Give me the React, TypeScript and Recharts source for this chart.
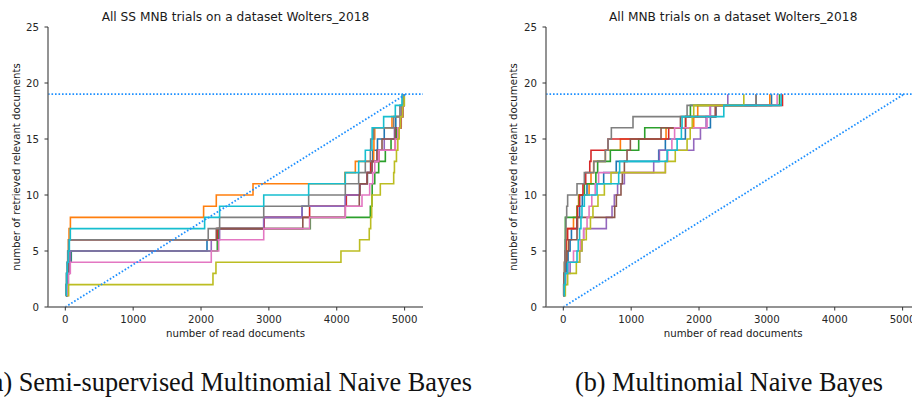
import React from 'react';
import { LineChart, Line, XAxis, YAxis, ReferenceLine } from 'recharts';

const X_TICKS = [0, 1000, 2000, 3000, 4000, 5000];
const Y_TICKS = [0, 5, 10, 15, 20, 25];
const FOUND = [1, 2, 3, 4, 5, 6, 7, 8, 9, 10, 11, 12, 13, 14, 15, 16, 17, 18, 19];
const TOTAL_RELEVANT = 19;
const TOTAL_DOCS = 5020;

// tab10
const COLORS = ['#1f77b4', '#ff7f0e', '#2ca02c', '#d62728', '#9467bd', '#8c564b', '#e377c2', '#7f7f7f', '#bcbd22', '#17becf'];

// number of read documents at which the k-th relevant one was found (k = 1..19)
// semi-supervised MNB
const ss1 = [15, 25, 35, 50, 88, 2088, 2235, 2924, 3490, 4130, 4335, 4450, 4500, 4530, 4600, 4700, 4870, 4950, 4985];
const ss2 = [5, 15, 25, 35, 40, 45, 55, 75, 2038, 2225, 2766, 4120, 4274, 4544, 4548, 4560, 4814, 4960, 4985];
const ss3 = [20, 30, 45, 60, 80, 2240, 2260, 3610, 4495, 4519, 4522, 4560, 4618, 4716, 4800, 4880, 4950, 4975, 4995];
const ss4 = [10, 20, 30, 40, 50, 55, 2240, 2930, 3600, 4141, 4338, 4446, 4500, 4620, 4863, 4900, 4950, 4975, 4990];
const ss5 = [20, 30, 40, 55, 74, 2151, 2274, 2924, 3488, 4126, 4340, 4450, 4520, 4600, 4700, 4850, 4930, 4960, 4985];
const ss6 = [10, 20, 30, 40, 45, 55, 2225, 3500, 4126, 4332, 4340, 4450, 4520, 4592, 4667, 4863, 4940, 4965, 4990];
const ss7 = [25, 35, 45, 74, 2151, 2260, 2924, 3600, 4126, 4372, 4485, 4530, 4560, 4618, 4863, 4900, 4940, 4970, 4990];
const ss8 = [5, 10, 15, 25, 35, 49, 2106, 2274, 2924, 3586, 4126, 4323, 4421, 4495, 4500, 4544, 4840, 4930, 4980];
const ss9 = [30, 49, 2176, 2220, 4062, 4337, 4479, 4500, 4515, 4519, 4642, 4839, 4850, 4880, 4900, 4920, 4940, 4970, 4995];
const ss10 = [10, 15, 20, 30, 45, 60, 74, 2053, 2274, 2924, 3586, 4126, 4323, 4421, 4519, 4522, 4691, 4863, 4961];

// plain MNB
const mnb1 = [5, 15, 25, 45, 70, 100, 120, 200, 241, 280, 349, 595, 780, 1406, 1504, 1799, 2168, 2250, 3068];
const mnb2 = [5, 10, 15, 20, 40, 50, 54, 150, 202, 225, 380, 408, 447, 620, 841, 1514, 1922, 1981, 3043];
const mnb3 = [5, 10, 15, 20, 25, 28, 30, 30, 205, 235, 310, 480, 506, 693, 1111, 1200, 1800, 1873, 3186];
const mnb4 = [5, 10, 15, 20, 25, 40, 64, 202, 210, 241, 290, 330, 390, 408, 659, 1553, 1804, 2242, 3230];
const mnb5 = [5, 15, 30, 100, 241, 275, 300, 634, 718, 752, 800, 900, 1332, 1416, 1922, 2021, 2104, 2168, 2424];
const mnb6 = [0, 5, 10, 20, 54, 80, 202, 210, 757, 782, 850, 870, 900, 939, 988, 1440, 1726, 2242, 2842];
const mnb7 = [10, 20, 35, 70, 150, 250, 300, 350, 380, 420, 470, 520, 1504, 1540, 1600, 1640, 2119, 2160, 3151];
const mnb8 = [5, 10, 15, 20, 25, 30, 35, 40, 50, 64, 202, 310, 450, 619, 659, 708, 1027, 1824, 2842];
const mnb9 = [10, 30, 64, 192, 241, 275, 339, 400, 437, 511, 605, 703, 1504, 1650, 1824, 1870, 1900, 1922, 2660];
const mnb10 = [5, 15, 30, 64, 202, 220, 240, 260, 275, 310, 497, 816, 830, 1529, 1677, 1740, 1750, 2365, 3210];

const SS_RUNS = [ss1, ss2, ss3, ss4, ss5, ss6, ss7, ss8, ss9, ss10];
const MNB_RUNS = [mnb1, mnb2, mnb3, mnb4, mnb5, mnb6, mnb7, mnb8, mnb9, mnb10];

const toPoints = (xs: number[]) => xs.map((x, i) => ({ x, y: FOUND[i] }));

const SANS = 'DejaVu Sans, sans-serif';
const SERIF = 'Liberation Serif, serif';
const X_DOMAIN: [number, number] = [-255, 5271];
const SPINE = '#6f6f6f';
const DOTS = '#1e90ff';

const tickStyle = { fill: '#262626', fontSize: 10.2, fontFamily: SANS };

function TrialsChart({ runs, left }: { runs: number[][]; left: number }) {
  return (
    <div style={{ position: 'absolute', left, top: 0 }}>
      <LineChart width={433} height={340} margin={{ top: 27, right: 10, bottom: 3, left: 0 }}>
        <XAxis
          dataKey="x"
          type="number"
          domain={X_DOMAIN}
          ticks={X_TICKS}
          allowDataOverflow
          height={30}
          tickSize={3.5}
          tickMargin={5}
          tick={tickStyle}
          tickLine={{ stroke: '#333' }}
          axisLine={{ stroke: SPINE, strokeWidth: 1.5 }}
        />
        <XAxis
          xAxisId="top"
          orientation="top"
          type="number"
          domain={X_DOMAIN}
          height={0}
          tick={false}
          tickLine={false}
          axisLine={{ stroke: SPINE, strokeWidth: 1.5 }}
        />
        <YAxis
          type="number"
          domain={[0, 25]}
          ticks={Y_TICKS}
          allowDataOverflow
          width={48}
          tickSize={3.5}
          tickMargin={5.5}
          tick={tickStyle}
          tickLine={{ stroke: '#333' }}
          axisLine={{ stroke: SPINE, strokeWidth: 1.5 }}
        />
        <YAxis
          yAxisId="right"
          orientation="right"
          type="number"
          domain={[0, 25]}
          width={0}
          tick={false}
          tickLine={false}
          axisLine={{ stroke: SPINE, strokeWidth: 1.5 }}
        />
        {runs.map((xs, i) => (
          <Line
            key={i}
            data={toPoints(xs)}
            dataKey="y"
            type="stepAfter"
            stroke={COLORS[i]}
            strokeWidth={1.6}
            dot={false}
            activeDot={false}
            isAnimationActive={false}
          />
        ))}
        <ReferenceLine y={TOTAL_RELEVANT} stroke={DOTS} strokeWidth={1.8} strokeDasharray="1.6 1.9" />
        <ReferenceLine
          segment={[{ x: 0, y: 0 }, { x: TOTAL_DOCS, y: TOTAL_RELEVANT }]}
          stroke={DOTS}
          strokeWidth={1.8}
          strokeDasharray="1.6 1.9"
        />
      </LineChart>
    </div>
  );
}

function Labels({ title, cx }: { title: string; cx: number }) {
  return (
    <g fill="#1a1a1a" fontFamily={SANS}>
      <text x={cx} y={20.7} fontSize={12.2} textAnchor="middle">{title}</text>
      <text x={cx} y={337} fontSize={10.2} textAnchor="middle">number of read documents</text>
      <text
        x={cx - 219.3}
        y={167}
        fontSize={10.2}
        textAnchor="middle"
        dominantBaseline="central"
        transform={`rotate(-90 ${cx - 219.3} 167)`}
      >
        number of retrieved relevant documents
      </text>
    </g>
  );
}

export default function App() {
  return (
    <div style={{ position: 'absolute', left: 0, top: 0, width: 912, height: 398, overflow: 'hidden', background: '#fff' }}>
      <TrialsChart runs={SS_RUNS} left={0} />
      <TrialsChart runs={MNB_RUNS} left={497.7} />
      <svg width={912} height={398} style={{ position: 'absolute', left: 0, top: 0, pointerEvents: 'none' }}>
        <Labels title="All SS MNB trials on a dataset Wolters_2018" cx={235.5} />
        <Labels title="All MNB trials on a dataset Wolters_2018" cx={733.2} />
        <g fill="#111" fontFamily={SERIF} fontSize={28}>
          <text x={-17} y={390.7} textLength={489} lengthAdjust="spacingAndGlyphs">(a) Semi-supervised Multinomial Naive Bayes</text>
          <text x={575} y={390.7} textLength={308} lengthAdjust="spacingAndGlyphs">(b) Multinomial Naive Bayes</text>
        </g>
      </svg>
    </div>
  );
}
